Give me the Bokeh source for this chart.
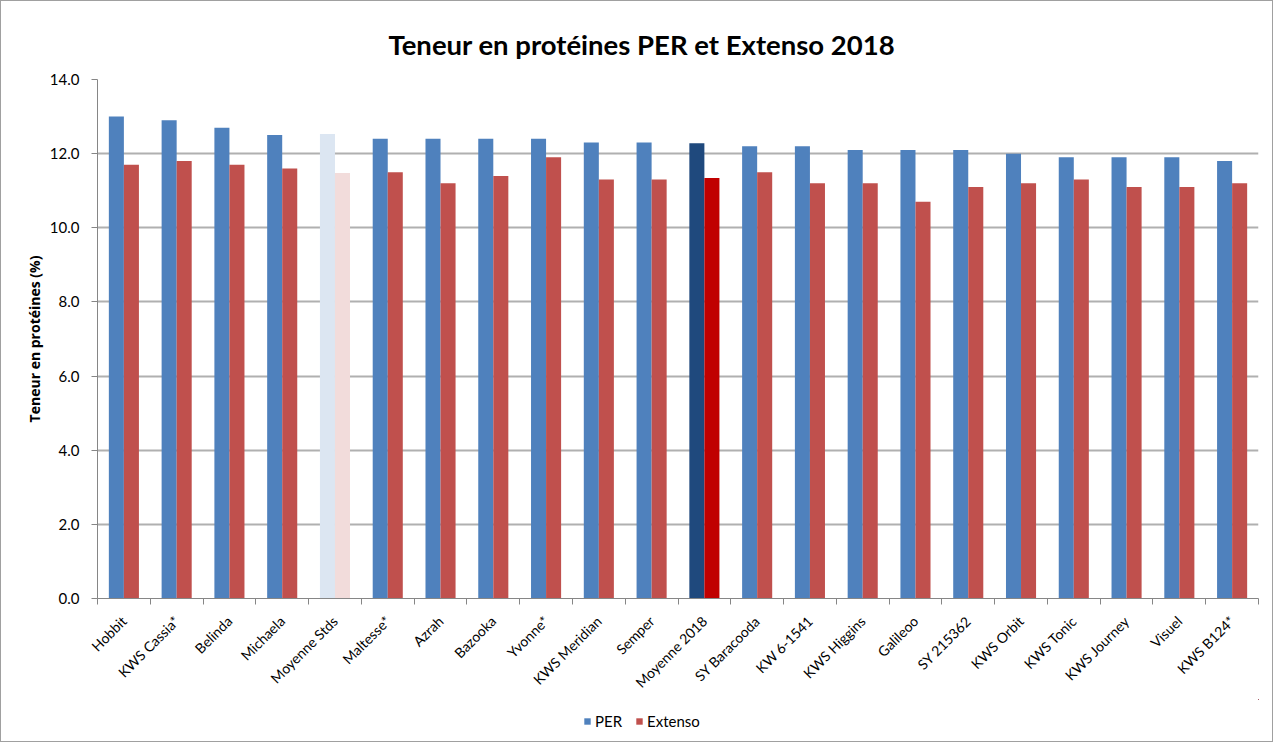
from bokeh.plotting import figure
from bokeh.models import ColumnDataSource, FixedTicker, NumeralTickFormatter, Legend, LegendItem, Range1d
from bokeh.layouts import column
from bokeh.embed import file_html
from bokeh.resources import INLINE
import math

varieties = ["Hobbit", "KWS Cassia*", "Belinda", "Michaela", "Moyenne Stds", "Maltesse*", "Azrah",
             "Bazooka", "Yvonne*", "KWS Meridian", "Semper", "Moyenne 2018", "SY Baracooda",
             "KW 6-1541", "KWS Higgins", "Galileoo", "SY 215362", "KWS Orbit", "KWS Tonic",
             "KWS Journey", "Visuel", "KWS B124*"]
per = [13.0, 12.9, 12.7, 12.5, 12.53, 12.4, 12.4, 12.4, 12.4, 12.3, 12.3, 12.28, 12.2, 12.2,
       12.1, 12.1, 12.1, 12.0, 11.9, 11.9, 11.9, 11.8]
extenso = [11.7, 11.8, 11.7, 11.6, 11.48, 11.5, 11.2, 11.4, 11.9, 11.3, 11.3, 11.34, 11.5, 11.2,
           11.2, 10.7, 11.1, 11.2, 11.3, 11.1, 11.1, 11.2]
y_ticks = [0, 2, 4, 6, 8, 10, 12, 14]
series_names = ["PER", "Extenso"]

FONT = "Lato"
PER_C, EXT_C = "#4F81BD", "#C0504D"
special_per = {"Moyenne Stds": "#DCE6F2", "Moyenne 2018": "#1F497D"}
special_ext = {"Moyenne Stds": "#F2DCDB", "Moyenne 2018": "#C00000"}

n = len(varieties)
centers = [i + 0.5 for i in range(n)]
bw = 0.285
src = ColumnDataSource(dict(
    x_per=[c - bw / 2 for c in centers],
    x_ext=[c + bw / 2 for c in centers],
    per=per, ext=extenso,
    c_per=[special_per.get(v, PER_C) for v in varieties],
    c_ext=[special_ext.get(v, EXT_C) for v in varieties],
))

W = 1271
p = figure(width=W, height=698, output_backend="svg", toolbar_location=None,
           x_range=Range1d(0, n), y_range=Range1d(0, 14),
           min_border_left=96, min_border_right=14, min_border_top=78, min_border_bottom=99)
p.outline_line_color = None

p.vbar(x="x_per", top="per", width=bw, bottom=0, source=src, fill_color="c_per", line_color=None)
p.vbar(x="x_ext", top="ext", width=bw, bottom=0, source=src, fill_color="c_ext", line_color=None)

p.title.text = "Teneur en protéines PER et Extenso 2018"
p.title.align = "left"
p.title.text_font = FONT
p.title.text_font_size = "27.5px"
p.title.text_font_style = "bold"
p.title.text_color = "black"
p.title.offset = 291
p.title.standoff = 38

# x axis
xa = p.xaxis[0]
xa.ticker = FixedTicker(ticks=centers, minor_ticks=list(range(n + 1)))
xa.major_label_overrides = {c: v for c, v in zip(centers, varieties)}
xa.major_label_orientation = math.pi / 4
xa.major_tick_line_color = None
xa.minor_tick_in = 0
xa.minor_tick_out = 6
xa.minor_tick_line_color = "#868686"
xa.axis_line_color = "#868686"
xa.major_label_text_font = FONT
xa.major_label_text_font_size = "14px"
xa.major_label_text_color = "black"
xa.major_label_standoff = 14

ya = p.yaxis[0]
ya.ticker = FixedTicker(ticks=y_ticks)
ya.formatter = NumeralTickFormatter(format="0.0")
ya.major_tick_in = 0
ya.major_tick_out = 6
ya.minor_tick_line_color = None
ya.major_tick_line_color = "#868686"
ya.axis_line_color = "#868686"
ya.major_label_text_font = FONT
ya.major_label_text_font_size = "15px"
ya.major_label_text_color = "black"
ya.major_label_standoff = 12
ya.axis_label = "Teneur en protéines (%)"
ya.axis_label_text_font = "Open Sans"
ya.axis_label_text_font_size = "14px"
ya.axis_label_text_font_style = "bold"
ya.axis_label_text_color = "black"
ya.axis_label_standoff = 3

p.xgrid.grid_line_color = None
p.ygrid.ticker = FixedTicker(ticks=y_ticks[1:])
p.ygrid.grid_line_color = "#B0B0B0"
p.ygrid.grid_line_width = 2

# legend strip below the chart (its glyphs sit outside the visible range)
lg = figure(width=W, height=42, output_backend="svg", toolbar_location=None,
            x_axis_type=None, y_axis_type=None, x_range=Range1d(-10, -9), y_range=Range1d(-10, -9),
            min_border=0)
lg.outline_line_color = None
lg.xgrid.grid_line_color = None
lg.ygrid.grid_line_color = None
e1 = lg.vbar(x="x_per", top="per", width=bw, source=src, fill_color=PER_C, line_color=None)
e2 = lg.vbar(x="x_ext", top="ext", width=bw, source=src, fill_color=EXT_C, line_color=None)
legend = Legend(items=[LegendItem(label=series_names[0], renderers=[e1]),
                       LegendItem(label=series_names[1], renderers=[e2])],
                orientation="horizontal", location=(486, 11),
                label_text_font=FONT, label_text_font_size="15px", label_text_color="black",
                glyph_width=8, glyph_height=8, spacing=13, label_standoff=4,
                border_line_color=None, background_fill_alpha=0, padding=2, margin=0)
lg.add_layout(legend, "center")

layout = column(p, lg, spacing=0, styles={"border": "1px solid #A0A0A0"})
open("out.html", "w").write(file_html(layout, INLINE))
